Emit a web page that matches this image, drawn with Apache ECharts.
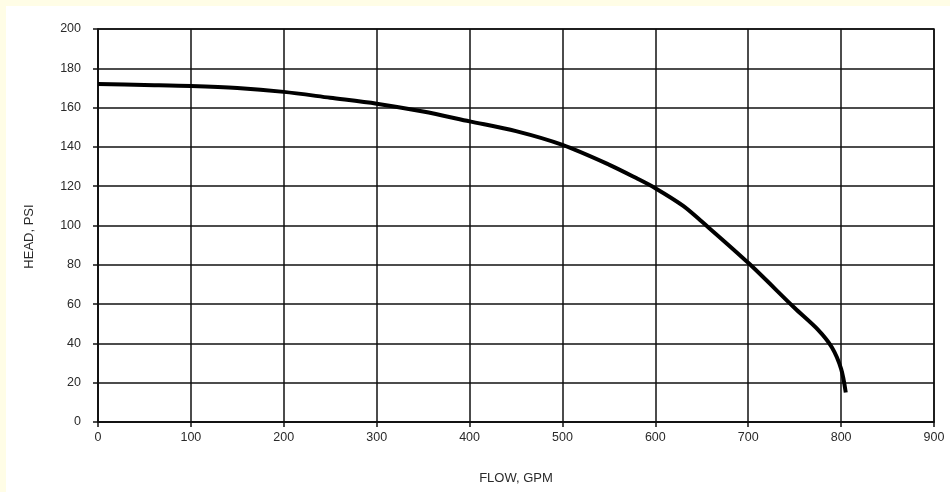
<!DOCTYPE html>
<html>
<head>
<meta charset="utf-8">
<script src="https://cdn.jsdelivr.net/npm/echarts@6/dist/echarts.min.js"></script>
<style>
  html, body { margin: 0; padding: 0; background: #fffde6; }
  #chart { width: 950px; height: 492px; }
</style>
</head>
<body>
<div id="chart"></div>
<script>
// pump curve
var flow = [0, 50, 100, 150, 200, 250, 300, 350, 400, 450, 500, 550, 580, 600, 630, 650, 700, 750, 775, 790, 800, 805];
var head = [172, 171.5, 171, 170, 168, 165, 162, 158, 153, 148, 141, 131, 124, 119, 110, 102, 81, 58, 47, 38, 27, 15];

var points = [];
for (var i = 0; i < flow.length; i++) {
    points.push([flow[i], head[i]]);
}

var myChart = echarts.init(document.getElementById('chart'));
var lineStyle = { color: '#111', width: 1.5 };
var labelStyle = { color: '#2a2a2a', fontSize: 12.5, fontFamily: 'Liberation Sans, Arial' };
var nameStyle = { color: '#2a2a2a', fontSize: 13, fontFamily: 'Liberation Sans, Arial' };

option = {
    backgroundColor: '#fffde6',
    animation: false,
    graphic: [{
        type: 'rect',
        shape: { x: 6, y: 6, width: 944, height: 486 },
        style: { fill: '#fff' },
        z: -10
    }],
    grid: {
        left: 98,
        right: 16,
        top: 29,
        bottom: 70,
        show: true,
        borderColor: '#111',
        borderWidth: 1.5
    },
    xAxis: {
        type: 'value',
        min: 0,
        max: 900,
        interval: 100,
        name: 'FLOW, GPM',
        nameLocation: 'middle',
        nameGap: 50,
        nameTextStyle: nameStyle,
        axisLine: { show: true, lineStyle: lineStyle },
        axisTick: { show: true, length: 5, lineStyle: lineStyle },
        axisLabel: Object.assign({ margin: 9 }, labelStyle),
        splitLine: { show: true, lineStyle: lineStyle }
    },
    yAxis: {
        type: 'value',
        min: 0,
        max: 200,
        interval: 20,
        name: 'HEAD, PSI',
        nameLocation: 'middle',
        nameGap: 62,
        nameTextStyle: Object.assign({ padding: [0, 22, 0, 0] }, nameStyle),
        axisLine: { show: true, lineStyle: lineStyle },
        axisTick: { show: true, length: 5, lineStyle: lineStyle },
        axisLabel: Object.assign({ margin: 17 }, labelStyle),
        splitLine: { show: true, lineStyle: lineStyle }
    },
    series: [{
        type: 'line',
        data: points,
        smooth: 0.3,
        showSymbol: false,
        lineStyle: { color: '#000', width: 4 }
    }]
};

myChart.setOption(option);
</script>
</body>
</html>
